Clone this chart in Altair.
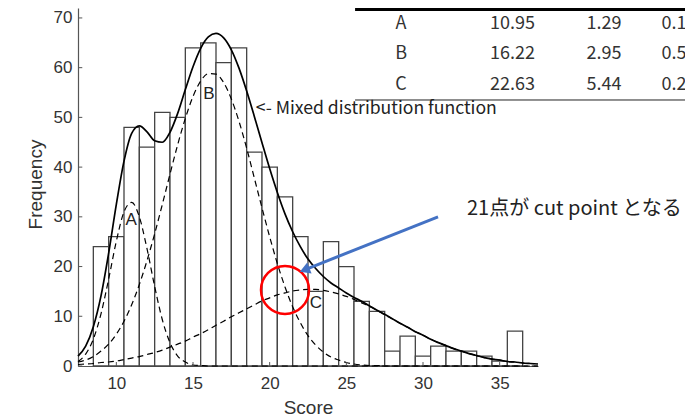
import altair as alt
import pandas as pd

# ---------------- data ----------------
score_bins = list(range(9, 37))
freq = [24, 26, 48, 44, 51, 50, 64, 65, 61, 64, 43, 40, 34, 26, 15, 25, 20, 13, 11, 3,
        6, 2, 4, 3, 3, 2, 1, 7]

curve_x = [7.5, 8.0, 8.5, 9.0, 9.5, 10.0, 10.5, 11.0, 11.5, 12.0, 12.5, 13.0, 13.5, 14.0,
           14.5, 15.0, 15.5, 16.0, 16.5, 17.0, 17.5, 18.0, 18.5, 19.0, 19.5, 20.0, 20.5,
           21.0, 21.5, 22.0, 22.5, 23.0, 23.5, 24.0, 24.5, 25.0, 25.5, 26.0, 26.5, 27.0,
           27.5, 28.0, 28.5, 29.0, 29.5, 30.0, 30.5, 31.0, 31.5, 32.0, 32.5, 33.0, 33.5,
           34.0, 34.5, 35.0, 35.5, 36.0, 36.5, 37.0, 37.5]
curve_a = [0.9, 2.4, 5.4, 10.5, 17.5, 25.1, 31.0, 32.9, 30.0, 23.6, 16.0, 9.3, 4.7, 2.0,
           0.8, 0.2, 0.1, 0.0] + [0.0] * 43
curve_b = [0.8, 1.2, 1.9, 3.0, 4.4, 6.4, 9.0, 12.3, 16.4, 21.2, 26.6, 32.5, 38.6, 44.5,
           49.8, 54.2, 57.3, 58.8, 58.7, 57.0, 53.7, 49.2, 43.8, 37.8, 31.8, 26.0, 20.6,
           15.9, 11.9, 8.7, 6.1, 4.2, 2.8, 1.8, 1.2, 0.7, 0.4, 0.2, 0.1, 0.1, 0.0, 0.0] + [0.0] * 19
curve_c = [0.3, 0.4, 0.5, 0.7, 0.8, 1.0, 1.3, 1.6, 1.9, 2.3, 2.7, 3.2, 3.8, 4.4, 5.0, 5.8,
           6.5, 7.3, 8.2, 9.0, 9.9, 10.7, 11.5, 12.3, 13.1, 13.7, 14.3, 14.7, 15.1, 15.3,
           15.4, 15.4, 15.2, 14.9, 14.5, 14.0, 13.4, 12.7, 12.0, 11.2, 10.3, 9.5, 8.6, 7.8,
           6.9, 6.2, 5.4, 4.7, 4.1, 3.5, 3.0, 2.5, 2.1, 1.7, 1.4, 1.2, 0.9, 0.8, 0.6, 0.5, 0.4]
curve_total = [2.0, 4.0, 7.9, 14.1, 22.7, 32.5, 41.2, 46.8, 48.3, 47.1, 45.3, 45.0, 47.0,
               50.8, 55.6, 60.2, 63.9, 66.2, 66.9, 66.0, 63.6, 59.9, 55.3, 50.2, 44.9,
               39.7, 34.9, 30.6, 27.0, 24.0, 21.5, 19.6, 18.0, 16.7, 15.7, 14.7, 13.8,
               13.0, 12.1, 11.2, 10.4, 9.5, 8.6, 7.8, 6.9, 6.2, 5.4, 4.7, 4.1, 3.5, 3.0,
               2.5, 2.1, 1.7, 1.4, 1.2, 0.9, 0.8, 0.6, 0.5, 0.4]

comp_labels = ["A", "B", "C"]
table_mean = ["10.95", "16.22", "22.63"]
table_sd = ["1.29", "2.95", "5.44"]
table_w = ["0.14", "0.58", "0.28"]

x_ticks = [10, 15, 20, 25, 30, 35]
y_ticks = [0, 10, 20, 30, 40, 50, 60, 70]

# ---------------- tables ----------------
bar_df = pd.DataFrame({"x0": [b - 0.5 for b in score_bins],
                       "x1": [b + 0.5 for b in score_bins],
                       "freq": freq})
comp_df = pd.concat([
    pd.DataFrame({"x": curve_x, "v": vals, "comp": name})
    for name, vals in zip(comp_labels, [curve_a, curve_b, curve_c])
])
total_df = pd.DataFrame({"x": curve_x, "v": curve_total})

LAT = "Liberation Sans"
JP = "Noto Sans CJK JP"
TXT = "#333333"

xs = alt.Scale(domain=[7.5, 37.5], nice=False, zero=False)
ys = alt.Scale(domain=[0, 72], nice=False, zero=False)

x_axis = alt.Axis(values=x_ticks, grid=False, ticks=False, labelPadding=9,
                  labelFont=LAT, labelFontSize=17, labelColor=TXT,
                  domainColor="#555555", domainWidth=1.2,
                  titleFont=LAT, titleFontSize=19, titleFontWeight="normal",
                  titleColor=TXT, titleBaseline="alphabetic", titleX=230, titleY=47)
y_axis = alt.Axis(values=y_ticks, grid=False, ticks=False, labelPadding=6,
                  labelFont=LAT, labelFontSize=17, labelColor=TXT,
                  domainColor="#555555", domainWidth=1.2,
                  titleFont=LAT, titleFontSize=19, titleFontWeight="normal",
                  titleColor=TXT, titleAngle=270, titleBaseline="alphabetic",
                  titleAlign="center", titleX=-37, titleY=176)

bars = alt.Chart(bar_df).mark_bar(fill="white", stroke="#444444", strokeWidth=1.3).encode(
    x=alt.X("x0:Q", scale=xs, axis=x_axis, title="Score"),
    x2="x1:Q",
    y=alt.Y("freq:Q", scale=ys, axis=y_axis, title="Frequency"),
    y2=alt.datum(0),
)

comps = alt.Chart(comp_df).mark_line(color="black", strokeWidth=1.2, strokeDash=[6, 4],
                                     interpolate="monotone").encode(
    x="x:Q", y="v:Q", detail="comp:N")

total = alt.Chart(total_df).mark_line(color="black", strokeWidth=1.7,
                                      interpolate="monotone").encode(x="x:Q", y="v:Q")

# inward ticks
ytick_df = pd.DataFrame({"v": y_ticks})
yticks = alt.Chart(ytick_df).mark_rule(color="#555555", strokeWidth=1).encode(
    x=alt.datum(7.5), x2=alt.datum(7.78), y="v:Q")
xtick_df = pd.DataFrame({"v": x_ticks})
xticks = alt.Chart(xtick_df).mark_rule(color="#555555", strokeWidth=1).encode(
    x="v:Q", y=alt.datum(0), y2=alt.datum(0.8))

# component letters
lab_df = pd.DataFrame({"t": comp_labels, "x": [10.96, 16.04, 23.02], "y": [29.4, 54.7, 12.7]})
letters = alt.Chart(lab_df).mark_text(font=LAT, fontSize=17, color="#222222",
                                      baseline="middle").encode(x="x:Q", y="y:Q", text="t:N")

mixed = alt.Chart(pd.DataFrame({"t": ["<- Mixed distribution function"]})).mark_text(
    font=JP, fontSize=17.6, color="#222222", align="left", baseline="middle").encode(
    x=alt.datum(19.1), y=alt.datum(51.7), text="t:N")

cut_txt = alt.Chart(pd.DataFrame({"t": ["21点が cut point となる"]})).mark_text(
    font=JP, fontSize=20, color="#222222", align="left", baseline="middle").encode(
    x=alt.datum(32.87), y=alt.datum(31.6), text="t:N")

# red circle at the cut point
circle = alt.Chart(pd.DataFrame({"x": [21.0], "y": [15.3]})).mark_point(
    shape="circle", filled=False, size=2304, color="#ff0000", strokeWidth=2.5, opacity=1).encode(
    x="x:Q", y="y:Q")

# blue arrow
arrow_df = pd.DataFrame({"x": [30.98, 22.28], "y": [30.0, 19.35], "o": [0, 1]})
arrow_line = alt.Chart(arrow_df).mark_line(color="#4472C4", strokeWidth=3).encode(
    x="x:Q", y="y:Q", order="o:Q")
arrow_head = alt.Chart(pd.DataFrame({"x": [22.28], "y": [19.35]})).mark_point(
    shape="triangle-left", filled=True, size=140, color="#4472C4", angle=338.4, opacity=1).encode(
    x="x:Q", y="y:Q")

# table at the top right (cut by the right edge, as in the original)
tab_df = pd.DataFrame({"comp": comp_labels, "mean": table_mean, "sd": table_sd, "w": table_w})
tab_df["ty"] = [68.85 - 6.2 * i for i in range(len(tab_df))]
tab_base = alt.Chart(tab_df).mark_text(font=JP, fontSize=18, color=TXT, baseline="middle")
col1 = tab_base.encode(x=alt.datum(28.57), y="ty:Q", text="comp:N")
col2 = tab_base.encode(x=alt.datum(35.84), y="ty:Q", text="mean:N")
col3 = tab_base.encode(x=alt.datum(41.81), y="ty:Q", text="sd:N")
col4 = alt.Chart(tab_df).mark_text(font=JP, fontSize=18, color=TXT, baseline="middle",
                                   align="left").encode(x=alt.datum(45.55), y="ty:Q", text="w:N")
top_rule = alt.Chart(pd.DataFrame({"a": [0]})).mark_rule(color="black", strokeWidth=3).encode(
    x=alt.datum(25.57), x2=alt.datum(49.0), y=alt.datum(71.7))
bot_rule = alt.Chart(pd.DataFrame({"a": [0]})).mark_rule(color="#222222", strokeWidth=1).encode(
    x=alt.datum(25.57), x2=alt.datum(49.0), y=alt.datum(53.5))

chart = alt.layer(
    bars, comps, total, yticks, xticks, letters, mixed, circle, arrow_line, arrow_head,
    cut_txt, top_rule, bot_rule, col1, col2, col3, col4
).properties(
    width=460, height=358,
    autosize=alt.AutoSizeParams(type="none"),
    padding={"left": 70, "top": 0, "right": 147, "bottom": 52},
    background="white",
).configure_view(stroke=None)

chart.save("out.html", embed_options={"renderer": "svg", "actions": False})
